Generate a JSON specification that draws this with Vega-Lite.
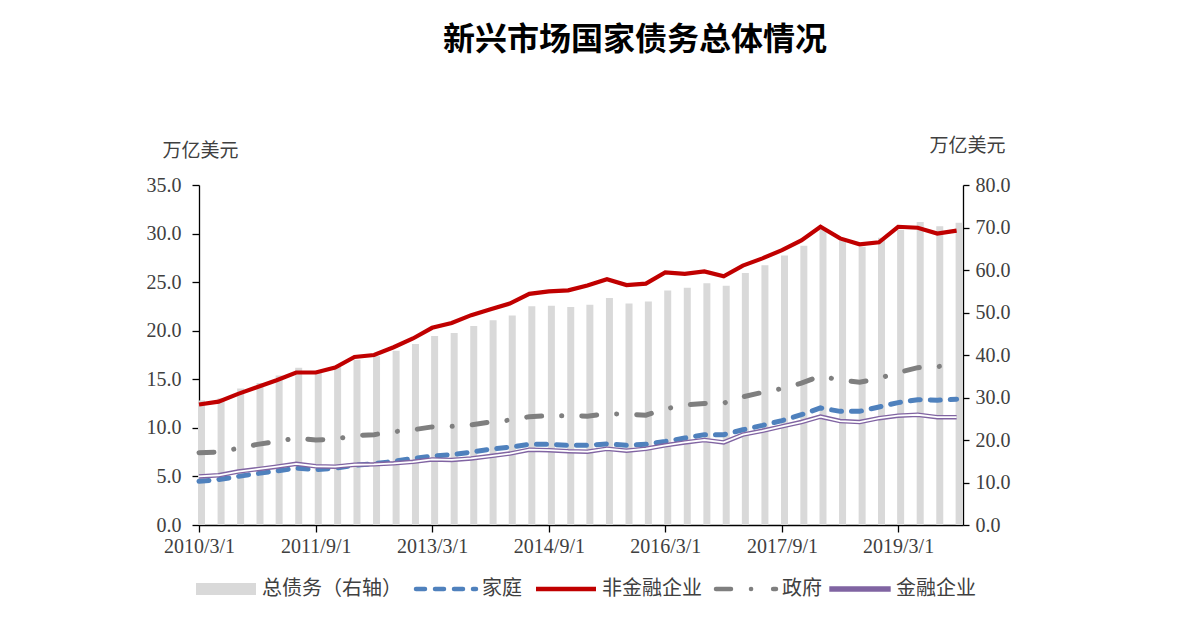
{
  "$schema": "https://vega.github.io/schema/vega-lite/v6.json",
  "description": "新兴市场国家债务总体情况",
  "autosize": "none",
  "width": 764,
  "height": 340,
  "padding": {"left": 199, "top": 185, "right": 217, "bottom": 102},
  "background": "white",
  "title": {
    "text": "新兴市场国家债务总体情况",
    "font": "Noto Sans CJK SC",
    "fontSize": 32,
    "fontWeight": "bold",
    "color": "black",
    "anchor": "middle",
    "frame": "group",
    "dx": 54,
    "offset": 79
  },
  "data": {
    "values": [
      {"d": "2010-03-01", "total": 29.3, "hh": 4.5, "nfc": 12.4, "gov": 7.45, "fin": 5.0},
      {"d": "2010-06-01", "total": 29.8, "hh": 4.68, "nfc": 12.7, "gov": 7.5, "fin": 5.12},
      {"d": "2010-09-01", "total": 32.1, "hh": 5.0, "nfc": 13.5, "gov": 7.9, "fin": 5.5},
      {"d": "2010-12-01", "total": 33.4, "hh": 5.3, "nfc": 14.2, "gov": 8.3, "fin": 5.75},
      {"d": "2011-03-01", "total": 35.2, "hh": 5.55, "nfc": 14.9, "gov": 8.6, "fin": 6.0},
      {"d": "2011-06-01", "total": 37.0, "hh": 5.85, "nfc": 15.7, "gov": 8.95, "fin": 6.3},
      {"d": "2011-09-01", "total": 36.3, "hh": 5.7, "nfc": 15.7, "gov": 8.75, "fin": 6.05},
      {"d": "2011-12-01", "total": 37.3, "hh": 5.85, "nfc": 16.2, "gov": 8.85, "fin": 6.0},
      {"d": "2012-03-01", "total": 38.9, "hh": 6.15, "nfc": 17.3, "gov": 9.2, "fin": 6.2},
      {"d": "2012-06-01", "total": 39.7, "hh": 6.3, "nfc": 17.5, "gov": 9.3, "fin": 6.25},
      {"d": "2012-09-01", "total": 41.0, "hh": 6.55, "nfc": 18.3, "gov": 9.6, "fin": 6.35},
      {"d": "2012-12-01", "total": 42.6, "hh": 6.85, "nfc": 19.2, "gov": 9.8, "fin": 6.5},
      {"d": "2013-03-01", "total": 44.5, "hh": 7.1, "nfc": 20.3, "gov": 10.1, "fin": 6.75},
      {"d": "2013-06-01", "total": 45.2, "hh": 7.25, "nfc": 20.8, "gov": 10.15, "fin": 6.7},
      {"d": "2013-09-01", "total": 46.8, "hh": 7.5, "nfc": 21.6, "gov": 10.3, "fin": 6.85},
      {"d": "2013-12-01", "total": 48.2, "hh": 7.8, "nfc": 22.2, "gov": 10.6, "fin": 7.1},
      {"d": "2014-03-01", "total": 49.3, "hh": 8.0, "nfc": 22.8, "gov": 10.8, "fin": 7.35},
      {"d": "2014-06-01", "total": 51.5, "hh": 8.3, "nfc": 23.8, "gov": 11.15, "fin": 7.75},
      {"d": "2014-09-01", "total": 51.6, "hh": 8.3, "nfc": 24.05, "gov": 11.25, "fin": 7.7},
      {"d": "2014-12-01", "total": 51.3, "hh": 8.2, "nfc": 24.15, "gov": 11.25, "fin": 7.6},
      {"d": "2015-03-01", "total": 51.85, "hh": 8.2, "nfc": 24.65, "gov": 11.2, "fin": 7.55},
      {"d": "2015-06-01", "total": 53.4, "hh": 8.35, "nfc": 25.3, "gov": 11.45, "fin": 7.85},
      {"d": "2015-09-01", "total": 52.1, "hh": 8.2, "nfc": 24.7, "gov": 11.4, "fin": 7.65},
      {"d": "2015-12-01", "total": 52.6, "hh": 8.3, "nfc": 24.85, "gov": 11.3, "fin": 7.85},
      {"d": "2016-03-01", "total": 55.2, "hh": 8.6, "nfc": 26.0, "gov": 11.95, "fin": 8.2},
      {"d": "2016-06-01", "total": 55.8, "hh": 8.95, "nfc": 25.85, "gov": 12.35, "fin": 8.5},
      {"d": "2016-09-01", "total": 56.9, "hh": 9.3, "nfc": 26.1, "gov": 12.5, "fin": 8.75},
      {"d": "2016-12-01", "total": 56.3, "hh": 9.3, "nfc": 25.6, "gov": 12.55, "fin": 8.5},
      {"d": "2017-03-01", "total": 59.3, "hh": 9.8, "nfc": 26.7, "gov": 13.2, "fin": 9.3},
      {"d": "2017-06-01", "total": 61.1, "hh": 10.25, "nfc": 27.45, "gov": 13.65, "fin": 9.7},
      {"d": "2017-09-01", "total": 63.4, "hh": 10.75, "nfc": 28.3, "gov": 14.05, "fin": 10.15},
      {"d": "2017-12-01", "total": 65.7, "hh": 11.35, "nfc": 29.3, "gov": 14.6, "fin": 10.6},
      {"d": "2018-03-01", "total": 69.6, "hh": 12.05, "nfc": 30.7, "gov": 15.35, "fin": 11.15},
      {"d": "2018-06-01", "total": 67.0, "hh": 11.7, "nfc": 29.5, "gov": 14.9, "fin": 10.7},
      {"d": "2018-09-01", "total": 65.5, "hh": 11.7, "nfc": 28.9, "gov": 14.7, "fin": 10.6},
      {"d": "2018-12-01", "total": 67.6, "hh": 12.15, "nfc": 29.1, "gov": 15.1, "fin": 11.0},
      {"d": "2019-03-01", "total": 69.5, "hh": 12.6, "nfc": 30.7, "gov": 15.7, "fin": 11.25},
      {"d": "2019-06-01", "total": 71.3, "hh": 12.9, "nfc": 30.6, "gov": 16.2, "fin": 11.35},
      {"d": "2019-09-01", "total": 70.3, "hh": 12.85, "nfc": 30.0, "gov": 16.3, "fin": 11.1},
      {"d": "2019-12-01", "total": 71.1, "hh": 12.95, "nfc": 30.3, "gov": 16.55, "fin": 11.1}
    ]
  },
  "encoding": {
    "x": {
      "field": "d",
      "type": "temporal",
      "scale": {
        "type": "utc",
        "nice": false,
        "padding": 0,
        "domain": [
          {"year": 2010, "month": 3, "date": 1, "utc": true},
          {"year": 2019, "month": 12, "date": 31, "utc": true}
        ]
      },
      "axis": {
        "title": null,
        "values": [
          {"year": 2010, "month": 3, "date": 1, "utc": true},
          {"year": 2011, "month": 9, "date": 1, "utc": true},
          {"year": 2013, "month": 3, "date": 1, "utc": true},
          {"year": 2014, "month": 9, "date": 1, "utc": true},
          {"year": 2016, "month": 3, "date": 1, "utc": true},
          {"year": 2017, "month": 9, "date": 1, "utc": true},
          {"year": 2019, "month": 3, "date": 1, "utc": true}
        ],
        "format": "%Y/%-m/%-d",
        "grid": false,
        "labelFlush": false,
        "labelFont": "Liberation Serif",
        "labelFontSize": 20,
        "labelColor": "#404040",
        "labelPadding": 4,
        "tickSize": 7,
        "tickColor": "black",
        "tickWidth": 1.3,
        "domainColor": "black",
        "domainWidth": 1.3
      }
    }
  },
  "layer": [
    {
      "mark": {"type": "bar", "width": 7, "xOffset": 2.5},
      "encoding": {
        "y": {
          "field": "total",
          "type": "quantitative",
          "scale": {"domain": [0, 80]},
          "axis": {
            "orient": "right",
            "values": [0, 10, 20, 30, 40, 50, 60, 70, 80],
            "format": ".1f",
            "grid": false,
            "labelFont": "Liberation Serif",
            "labelFontSize": 20,
            "labelColor": "#404040",
            "labelPadding": 6,
            "tickSize": 6,
            "tickColor": "black",
            "tickWidth": 1.3,
            "domainColor": "black",
            "domainWidth": 1.3,
            "title": "万亿美元",
            "titleAngle": 0,
            "titleX": 4,
            "titleY": -40,
            "titleAlign": "center",
            "titleBaseline": "middle",
            "titleFont": "Noto Sans CJK SC",
            "titleFontSize": 19,
            "titleFontWeight": "normal",
            "titleColor": "#404040"
          }
        },
        "color": {
          "datum": "总债务（右轴）",
          "type": "nominal",
          "scale": {
            "domain": ["总债务（右轴）", "家庭", "非金融企业", "政府", "金融企业"],
            "range": ["#d9d9d9", "#4f81bd", "#c00000", "#7f7f7f", "#8064a2"]
          },
          "legend": {
            "title": null,
            "orient": "none",
            "legendX": 17,
            "legendY": 394,
            "direction": "horizontal",
            "symbolType": "stroke",
            "symbolSize": 3600,
            "symbolStrokeWidth": 4.5,
            "labelFont": "Noto Sans CJK SC",
            "labelFontSize": 20,
            "labelColor": "#404040",
            "labelOffset": 26,
            "columnPadding": 5,
            "encode": {
              "symbols": {
                "update": {
                  "shape": {"signal": "datum.value === '总债务（右轴）' ? 'M-1,-0.2H1V0.2H-1Z' : datum.value === '金融企业' ? 'M-1,-0.07H1V0.07H-1Z' : 'stroke'"},
                  "fill": {"signal": "datum.value === '总债务（右轴）' ? '#d9d9d9' : datum.value === '金融企业' ? 'white' : 'transparent'"},
                  "stroke": {"signal": "datum.value === '总债务（右轴）' ? 'transparent' : datum.value === '家庭' ? '#4f81bd' : datum.value === '非金融企业' ? '#c00000' : datum.value === '政府' ? '#7f7f7f' : '#8064a2'"},
                  "strokeWidth": {"signal": "datum.value === '总债务（右轴）' ? 0 : datum.value === '金融企业' ? 1.4 : 4.5"},
                  "strokeDash": {"signal": "datum.value === '家庭' ? [9, 10] : datum.value === '政府' ? [15, 20, 0.1, 22] : null"},
                  "strokeCap": {"signal": "datum.value === '家庭' || datum.value === '政府' ? 'round' : 'butt'"},
                  "opacity": {"value": 1}
                }
              }
            }
          }
        }
      }
    },
    {
      "layer": [
        {
          "mark": {"type": "line", "strokeWidth": 5, "strokeDash": [10, 10], "strokeCap": "round"},
          "encoding": {
            "y": {
              "field": "hh",
              "type": "quantitative",
              "scale": {"domain": [0, 35]},
              "axis": {
                "orient": "left",
                "values": [0, 5, 10, 15, 20, 25, 30, 35],
                "format": ".1f",
                "grid": false,
                "labelFont": "Liberation Serif",
                "labelFontSize": 20,
                "labelColor": "#404040",
                "labelPadding": 11,
                "tickSize": 7,
                "tickColor": "black",
                "tickWidth": 1.3,
                "domainColor": "black",
                "domainWidth": 1.3,
                "title": "万亿美元",
                "titleAngle": 0,
                "titleX": 1,
                "titleY": -35,
                "titleAlign": "center",
                "titleBaseline": "middle",
                "titleFont": "Noto Sans CJK SC",
                "titleFontSize": 19,
                "titleFontWeight": "normal",
                "titleColor": "#404040"
              }
            },
            "color": {"datum": "家庭", "type": "nominal"}
          }
        },
        {
          "mark": {"type": "line", "strokeWidth": 4.2},
          "encoding": {
            "y": {"field": "nfc", "type": "quantitative"},
            "color": {"datum": "非金融企业", "type": "nominal"}
          }
        },
        {
          "mark": {"type": "line", "strokeWidth": 5, "strokeDash": [15, 20, 0.1, 20], "strokeCap": "round"},
          "encoding": {
            "y": {"field": "gov", "type": "quantitative"},
            "color": {"datum": "政府", "type": "nominal"}
          }
        },
        {
          "mark": {"type": "line", "strokeWidth": 4.5},
          "encoding": {
            "y": {"field": "fin", "type": "quantitative"},
            "color": {"datum": "金融企业", "type": "nominal"}
          }
        },
        {
          "mark": {"type": "line", "strokeWidth": 1.8, "color": "white"},
          "encoding": {
            "y": {"field": "fin", "type": "quantitative"}
          }
        }
      ]
    }
  ],
  "resolve": {"scale": {"y": "independent"}},
  "config": {"view": {"stroke": null}}
}
